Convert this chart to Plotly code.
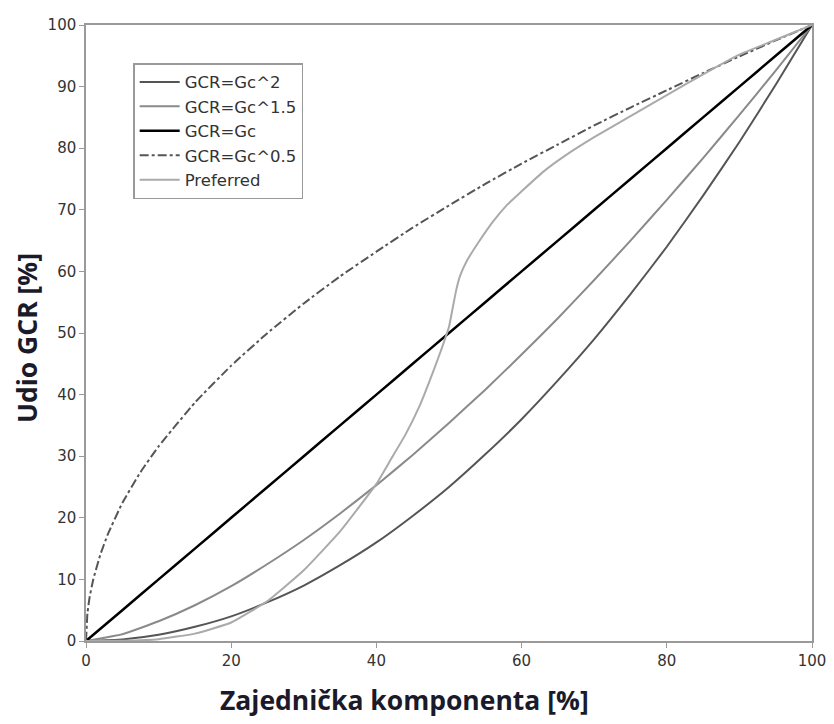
import plotly.graph_objects as go

# Data (percent values)
gc_x = [0, 5, 10, 15, 20, 25, 30, 35, 40, 45, 50, 55, 60, 65, 70, 75, 80, 85, 90, 95, 100]
gcr_sq = [0, 0.25, 1, 2.3, 4, 6.3, 9, 12.3, 16, 20.3, 25, 30.3, 36, 42.3, 49, 56.3, 64, 72.3, 81, 90.3, 100]
gcr_15 = [0, 1.1, 3.2, 5.8, 8.9, 12.5, 16.4, 20.7, 25.3, 30.2, 35.4, 40.8, 46.5, 52.4, 58.6, 65, 71.6, 78.4, 85.4, 92.6, 100]
gcr_lin = [0, 5, 10, 15, 20, 25, 30, 35, 40, 45, 50, 55, 60, 65, 70, 75, 80, 85, 90, 95, 100]

sqrt_x = [0, 0.2, 0.5, 1, 2, 3, 5, 7.5, 10, 15, 20, 25, 30, 35, 40, 45, 50, 55, 60, 65, 70, 75, 80, 85, 90, 95, 100]
gcr_sqrt = [0, 4.5, 7.1, 10, 14.1, 17.3, 22.4, 27.4, 31.6, 38.7, 44.7, 50, 54.8, 59.2, 63.2, 67.1, 70.7, 74.2, 77.5, 80.6, 83.7, 86.6, 89.4, 92.2, 94.9, 97.5, 100]

pref_x = [0, 5, 10, 15, 20, 25, 30, 35, 40, 42, 44, 46, 47, 48, 49, 50, 50.5, 51, 51.5, 52.5, 54, 56, 58, 60, 63, 66, 70, 75, 80, 85, 90, 95, 100]
pref_y = [0, 0.05, 0.3, 1.2, 3, 6.5, 11.5, 17.8, 25.5, 29.5, 33.5, 38.3, 41.2, 44.3, 47.5, 51, 54, 57, 59.2, 61.8, 64.6, 68, 70.8, 73, 76.2, 78.8, 81.8, 85.2, 88.6, 92, 95.2, 97.6, 100]

x_title = "Zajednička komponenta [%]"
y_title = "Udio GCR [%]"

series = [
    ("GCR=Gc^2", gc_x, gcr_sq, "#555555", 2, "solid"),
    ("GCR=Gc^1.5", gc_x, gcr_15, "#8a8a8a", 2, "solid"),
    ("GCR=Gc", gc_x, gcr_lin, "#000000", 2.5, "solid"),
    ("GCR=Gc^0.5", sqrt_x, gcr_sqrt, "#555555", 2, "dashdot"),
    ("Preferred", pref_x, pref_y, "#aaaaaa", 2, "solid"),
]

fig = go.Figure()
for name, xs, ys, col, w, dash in series:
    fig.add_trace(go.Scatter(
        x=xs, y=ys, mode="lines", name=name,
        line=dict(color=col, width=w, dash=dash, shape="spline", smoothing=0.4),
    ))

tick_font = dict(family="DejaVu Sans, Liberation Sans, sans-serif", size=15, color="#333333")
title_font = dict(family="Open Sans, Noto Sans, sans-serif", size=26.5, color="#1a1a2a", weight="bold")

axis_common = dict(
    showgrid=False, zeroline=False, automargin=False,
    showline=True, linecolor="#9a9a9a", linewidth=1.5, mirror=True,
    ticks="outside", ticklen=5, tickcolor="#9a9a9a", tickwidth=1,
    tickfont=tick_font,
)

# page body has an 8px margin, so the figure is sized/offset to compensate
fig.update_layout(
    width=826, height=716,
    margin=dict(l=78, r=22, t=17, b=83),
    paper_bgcolor="white", plot_bgcolor="white",
    xaxis=dict(range=[0, 100], dtick=20, tick0=0, **axis_common),
    yaxis=dict(range=[0, 100], dtick=10, tick0=0, **axis_common),
    legend=dict(
        x=0.065, y=0.938, xanchor="left", yanchor="top",
        bgcolor="white", bordercolor="#9a9a9a", borderwidth=1.5,
        font=dict(family="DejaVu Sans, Liberation Sans, sans-serif", size=16.5, color="#333333"),
        tracegroupgap=0, itemwidth=40,
    ),
    showlegend=True,
    annotations=[
        dict(text=x_title, xref="paper", yref="paper", x=0.439, y=-0.096,
             xanchor="center", yanchor="middle", showarrow=False, font=title_font),
        dict(text=y_title, xref="paper", yref="paper", x=-0.081, y=0.492,
             xanchor="center", yanchor="middle", showarrow=False, textangle=-90, font=title_font),
    ],
)

fig.write_html("out.html")
